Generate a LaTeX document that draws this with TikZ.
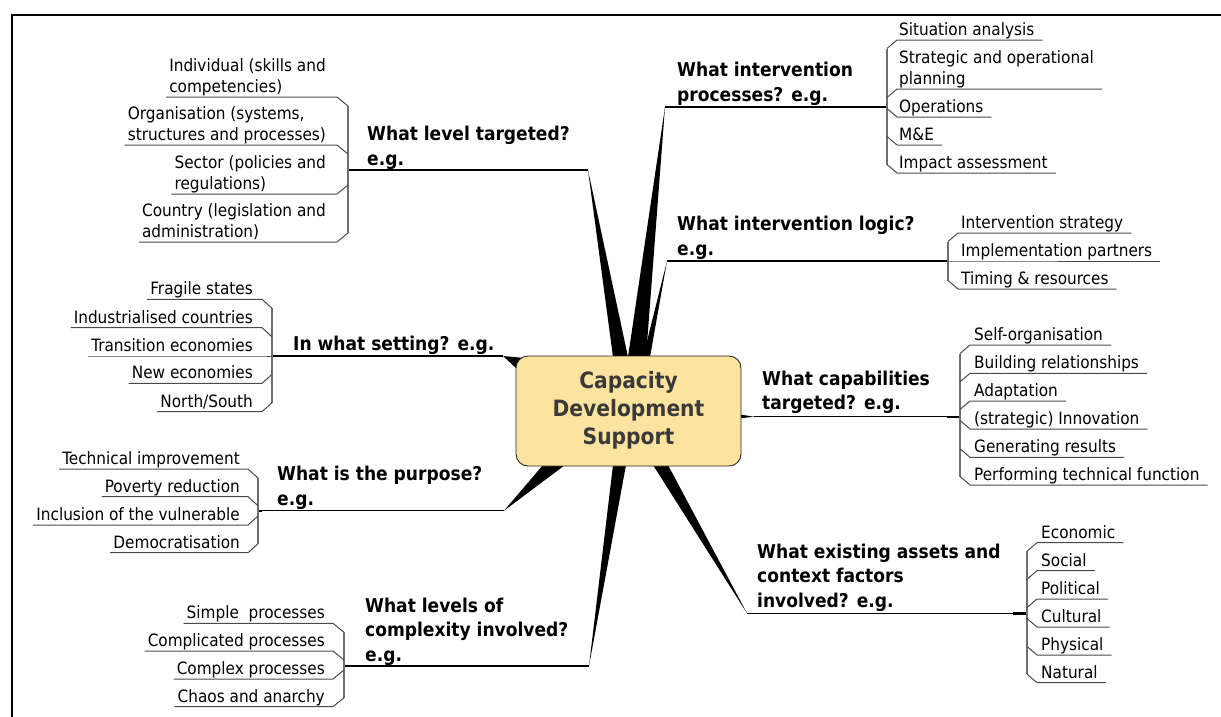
\documentclass[tikz,border=0pt]{standalone}
\usepackage{fontspec}
\setmainfont{DejaVu Sans Condensed}
\usetikzlibrary{calc}
\definecolor{boxfill}{HTML}{FDE3A0}
\definecolor{boxtext}{HTML}{3A3A3A}
\definecolor{itemgray}{HTML}{4A4A4A}
\definecolor{brackgray}{HTML}{6E6E6E}
\newcommand\itemfont{\fontsize{17}{21}\selectfont}
\newcommand\labelfont{\fontsize{19}{24.5}\selectfont\bfseries}
\newcommand\stack[1]{\begin{tabular}[b]{@{}l@{}}#1\end{tabular}}
\tikzset{
  itemtext/.style={font=\itemfont, inner sep=0pt},
  labeltext/.style={font=\labelfont, inner sep=0pt, anchor=base west},
  itemline/.style={draw=itemgray, line width=1pt},
  bracketline/.style={draw=brackgray, line width=1.2pt},
  mainline/.style={draw=black, line width=1.2pt},
  joint/.style={draw=black, line width=2.4pt},
  wedge/.style={fill=black},
  hub/.style={draw=black!85, line width=0.9pt, fill=boxfill, rounded corners=12pt,
    minimum width=225pt, minimum height=110pt, inner sep=0pt,
    font=\fontsize{22.5}{28}\selectfont\bfseries, text=boxtext}
}
\begin{document}
\begin{tikzpicture}[x=1pt,y=-1pt]
\useasboundingbox (0,0) rectangle (1221,716);
% outer frame (left and top edges)
\draw[line width=2pt] (12,730) -- (12,15) -- (1240,15);

% tips of the tapered branches
\coordinate (tipA) at (588,170);
\coordinate (tipB) at (665,107);
\coordinate (tipC) at (667,261);
\coordinate (tipD) at (754,416.7);
\coordinate (tipE) at (747,613.3);
\coordinate (tipF) at (589,666);
\coordinate (tipG) at (504,510.7);
\coordinate (tipH) at (503,356);
% junctions where each branch meets its bracket
\coordinate (jA) at (348,170);
\coordinate (jB) at (887,107);
\coordinate (jC) at (948,261);
\coordinate (jD) at (960,416.7);
\coordinate (jE) at (1027,613.3);
\coordinate (jF) at (344,666);
\coordinate (jG) at (258,510.7);
\coordinate (jH) at (272,356);

% central topic position (drawn last, over the wedge bases)
\path (628.5,411) coordinate (hubc);

% tapered branches
\fill[wedge] (tipA) -- (613,357) -- (628,357) -- cycle;
\fill[wedge] (tipB) -- (628,357) -- (646,357) -- cycle;
\fill[wedge] (tipC) -- (643,357) -- (650,357) -- cycle;
\fill[wedge] (tipD) -- (738,414.2) -- (738,418.6) -- cycle;
\fill[wedge] (tipE) -- (653,465) -- (668,465) -- cycle;
\fill[wedge] (tipF) -- (613,465) -- (626,465) -- cycle;
\fill[wedge] (tipG) -- (543,465) -- (565,465) -- cycle;
\fill[wedge] (tipH) -- (516,368) -- (525,358) -- cycle;

\node[hub] (hub) at (hubc) {\begin{tabular}{@{}c@{}}Capacity\\Development\\Support\end{tabular}};

% ---------- branch labels and their underlines ----------
\node[labeltext] (labA) at (367,165) {\stack{What level targeted?\\e.g.}};
\node[labeltext] (labB) at (677,101) {\stack{What intervention\\processes? e.g.}};
\node[labeltext] (labC) at (677,255) {\stack{What intervention logic?\\e.g.}};
\node[labeltext] (labD) at (762,409.5) {\stack{What capabilities\\targeted? e.g.}};
\node[labeltext] (labE) at (757,607) {\stack{What existing assets and\\context factors\\involved? e.g.}};
\node[labeltext] (labF) at (365,661) {\stack{What levels of\\complexity involved?\\e.g.}};
\node[labeltext] (labG) at (277,505) {\stack{What is the purpose?\\e.g.}};
\node[labeltext] (labH) at (293,350) {\stack{In what setting? e.g.}};

\foreach \a in {A,B,C,D,E,F,G,H}{
  \draw[mainline] (tip\a) -- (j\a);
}
\draw[joint] (jA) -- ++(14,0);
\draw[joint] (jB) -- ++(-16,0);
\draw[joint] (jC) -- ++(-15,0);
\draw[joint] (jD) -- ++(-13,0);
\draw[joint] (jE) -- ++(-14,0);
\draw[joint] (jF) -- ++(15,0);
\draw[joint] (jG) -- ++(4,0);
\draw[joint] (jH) -- ++(15,0);

% ---------- left-hand item lists ----------
% A: levels
\draw[bracketline] (348,106) -- (348,233);
\foreach \t/\y [count=\i] in {{Individual (skills and\\competencies)}/97,
    {Organisation (systems,\\structures and processes)}/145,
    {Sector (policies and\\regulations)}/194,
    {Country (legislation and\\administration)}/242}{
  \node[itemtext, anchor=base east] (lv\i) at (326,\y-4.5) {\stack{\t}};
  \pgfmathsetmacro\dy{9*sign(170-\y)}
  \draw[itemline] ($(lv\i.base west)+(-3,4.5)$) -- (337,\y) -- (348,\y+\dy);
}
% H: setting
\draw[bracketline] (272,308.3) -- (272,402.7);
\foreach \t/\y [count=\i] in {{Fragile states}/299.3, {Industrialised countries}/327.7,
    {Transition economies}/356, {New economies}/383.3, {North/South}/411.7}{
  \node[itemtext, anchor=base east] (st\i) at (253,\y-4.5) {\stack{\t}};
  \pgfmathsetmacro\dy{9*sign(356-\y)}
  \draw[itemline] ($(st\i.base west)+(-3,4.5)$) -- (262,\y) -- (272,\y+\dy);
}
% G: purpose
\draw[bracketline] (258,478) -- (258,543.7);
\foreach \t/\y [count=\i] in {{Technical improvement}/469, {Poverty reduction}/496.7,
    {Inclusion of the vulnerable}/525, {Democratisation}/552.7}{
  \node[itemtext, anchor=base east] (pu\i) at (240,\y-4.5) {\stack{\t}};
  \pgfmathsetmacro\dy{9*sign(510.7-\y)}
  \draw[itemline] ($(pu\i.base west)+(-3,4.5)$) -- (248,\y) -- (258,\y+\dy);
}
% F: complexity
\draw[bracketline] (344,632.3) -- (344,697.7);
\foreach \t/\y [count=\i] in {{Simple\ \ processes}/623.3, {Complicated processes}/651,
    {Complex processes}/679, {Chaos and anarchy}/706.7}{
  \node[itemtext, anchor=base east] (cx\i) at (325,\y-4.5) {\stack{\t}};
  \pgfmathsetmacro\dy{9*sign(666-\y)}
  \draw[itemline] ($(cx\i.base west)+(-3,4.5)$) -- (333,\y) -- (344,\y+\dy);
}

% ---------- right-hand item lists ----------
% B: processes
\draw[bracketline] (887,48.5) -- (887,164.5);
\foreach \t/\y [count=\i] in {{Situation analysis}/40, {Strategic and operational\\planning}/89,
    {Operations}/117, {M\&E}/145, {Impact assessment}/173}{
  \node[itemtext, anchor=base west] (pr\i) at (899,\y-4.5) {\stack{\t}};
  \pgfmathsetmacro\dy{8.5*sign(107-\y)}
  \draw[itemline] (887,\y+\dy) -- (897,\y) -- ($(pr\i.base east)+(8,4.5)$);
}
% C: logic
\draw[bracketline] (948,241.5) -- (948,280.5);
\foreach \t/\y [count=\i] in {{Intervention strategy}/233, {Implementation partners}/261,
    {Timing \& resources}/289}{
  \node[itemtext, anchor=base west] (lo\i) at (961,\y-4.5) {\stack{\t}};
  \pgfmathsetmacro\dy{8.5*sign(261-\y)}
  \draw[itemline] (948,\y+\dy) -- (958,\y) -- ($(lo\i.base east)+(8,4.5)$);
}
% D: capabilities
\draw[bracketline] (960,353.5) -- (960,476.5);
\foreach \t/\y [count=\i] in {{Self-organisation}/345, {Building relationships}/373.3,
    {Adaptation}/401, {(strategic) Innovation}/429, {Generating results}/457.3,
    {Performing technical function}/485}{
  \node[itemtext, anchor=base west] (ca\i) at (974,\y-4.5) {\stack{\t}};
  \pgfmathsetmacro\dy{8.5*sign(416.7-\y)}
  \draw[itemline] (960,\y+\dy) -- (970,\y) -- ($(ca\i.base east)+(8,4.5)$);
}
% E: assets and context
\draw[bracketline] (1027,551.2) -- (1027,674.2);
\foreach \t/\y [count=\i] in {{Economic}/542.7, {Social}/570.7, {Political}/599,
    {Cultural}/627, {Physical}/655, {Natural}/682.7}{
  \node[itemtext, anchor=base west] (as\i) at (1041,\y-4.5) {\stack{\t}};
  \pgfmathsetmacro\dy{8.5*sign(613.3-\y)}
  \draw[itemline] (1027,\y+\dy) -- (1037,\y) -- ($(as\i.base east)+(8,4.5)$);
}
\end{tikzpicture}
\end{document}
